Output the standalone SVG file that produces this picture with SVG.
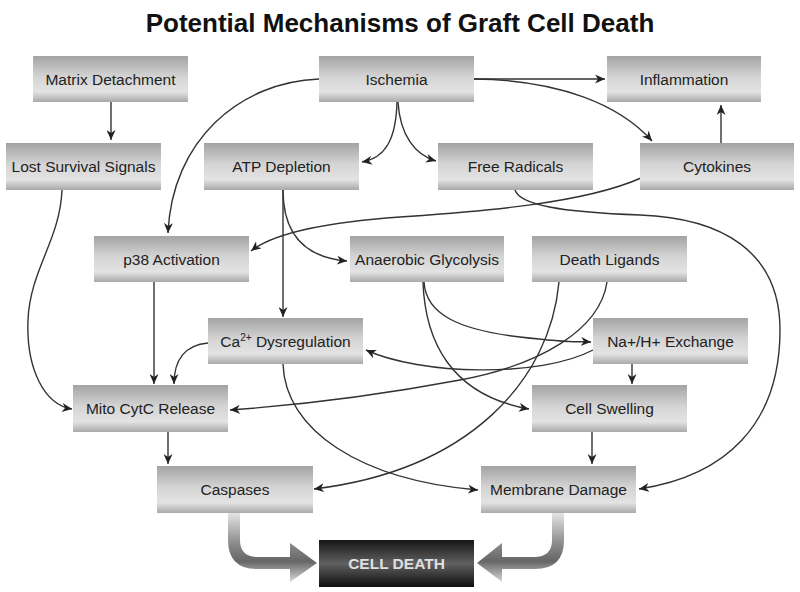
<svg xmlns="http://www.w3.org/2000/svg" width="800" height="592" viewBox="0 0 800 592">
<style>
.box{fill:url(#boxg);}
.lbl{font-family:"Liberation Sans",Arial,sans-serif;font-size:15.5px;fill:#222;text-anchor:middle;}
.title{font-family:"Liberation Sans",Arial,sans-serif;font-size:26px;font-weight:bold;fill:#111;text-anchor:middle;}
.dead{font-family:"Liberation Sans",Arial,sans-serif;font-size:15.5px;font-weight:bold;fill:#e0e0e0;text-anchor:middle;}
.c{fill:none;stroke:#333;stroke-width:1.4;marker-end:url(#ah);}
.cn{fill:none;stroke:#333;stroke-width:1.4;}
</style>
<defs>
<linearGradient id="boxg" x1="0" y1="0" x2="0" y2="1">
<stop offset="0" stop-color="#a3a3a3"/>
<stop offset="0.45" stop-color="#d4d4d4"/>
<stop offset="0.78" stop-color="#e3e3e3"/>
<stop offset="1" stop-color="#a9a9a9"/>
</linearGradient>
<linearGradient id="deadg" x1="0" y1="0" x2="0" y2="1">
<stop offset="0" stop-color="#151515"/>
<stop offset="0.5" stop-color="#606060"/>
<stop offset="1" stop-color="#0e0e0e"/>
</linearGradient>
<linearGradient id="bigg" x1="0" y1="0" x2="0" y2="1">
<stop offset="0" stop-color="#e4e4e4"/>
<stop offset="0.45" stop-color="#8a8a8a"/>
<stop offset="0.7" stop-color="#666"/>
<stop offset="1" stop-color="#d8d8d8"/>
</linearGradient>
<marker id="ah" markerUnits="userSpaceOnUse" markerWidth="11" markerHeight="9" refX="10" refY="4.5" orient="auto">
<path d="M0,0 L10,4.5 L0,9 L3,4.5 z" fill="#222"/>
</marker>
</defs>
<rect width="800" height="592" fill="#fff"/>
<text class="title" x="400" y="32">Potential Mechanisms of Graft Cell Death</text>

<g id="connectors">
<path class="c" d="M111,102 L111,140"/>
<path class="c" d="M474,79 L605,79"/>
<path class="c" d="M474,79 C560,80 620,105 652,141"/>
<path class="c" d="M721,143 L721,105"/>
<path class="c" d="M397,102 C396,140 385,158 362,162"/>
<path class="c" d="M398,102 C400,135 415,155 436,161"/>
<path class="c" d="M319,79 C240,82 172,140 168,233"/>
<path class="c" d="M62,190 C60,240 30,270 28,320 C26,370 45,405 72,409"/>
<path class="c" d="M283,190 L283,317"/>
<path class="c" d="M283,190 C283,240 310,258 347,261"/>
<path class="c" d="M641,178 C580,205 470,212 400,217 C330,222 275,232 251,251"/>
<path class="c" d="M515,190 C520,205 560,212 640,215 C720,218 780,250 780,330 C780,425 725,476 639,489"/>
<path class="c" d="M154,282 L154,384"/>
<path class="c" d="M208,343 C185,345 174,360 174,384"/>
<path class="c" d="M593,350 C540,378 420,375 366,350"/>
<path class="c" d="M607,282 C600,330 540,365 460,380 C380,395 300,405 230,410"/>
<path class="c" d="M424,282 C426,315 460,330 520,337 S575,341 591,342"/>
<path class="c" d="M423,282 C425,340 450,395 529,409"/>
<path class="c" d="M559,282 C550,380 470,470 314,489"/>
<path class="c" d="M283,364 C285,430 360,480 478,490"/>
<path class="c" d="M168,432 L168,464"/>
<path class="c" d="M632,364 L632,384"/>
<path class="c" d="M592,432 L592,464"/>
<path d="M228,513 L240,513 L240,540 Q240,557 258,557 L290,557 L290,543 L317,563 L290,582 L290,569 L257,569 Q228,569 228,540 Z" fill="url(#bigg)"/>
<path d="M564,513 L552,513 L552,540 Q552,557 534,557 L502,557 L502,543 L477,563 L502,582 L502,569 L535,569 Q564,569 564,540 Z" fill="url(#bigg)"/>
</g>

<g id="matrix"><rect class="box" x="33" y="56" width="155" height="46"/><text class="lbl" x="110.5" y="84.5">Matrix Detachment</text></g>
<g id="ischemia"><rect class="box" x="319" y="56" width="155" height="46"/><text class="lbl" x="396.5" y="84.5">Ischemia</text></g>
<g id="inflammation"><rect class="box" x="607" y="56" width="154" height="46"/><text class="lbl" x="684" y="84.5">Inflammation</text></g>
<g id="lost"><rect class="box" x="6" y="143" width="155" height="47"/><text class="lbl" x="83.5" y="172">Lost Survival Signals</text></g>
<g id="atp"><rect class="box" x="204" y="143" width="155" height="47"/><text class="lbl" x="281.5" y="172">ATP Depletion</text></g>
<g id="freerad"><rect class="box" x="438" y="143" width="155" height="47"/><text class="lbl" x="515.5" y="172">Free Radicals</text></g>
<g id="cytokines"><rect class="box" x="640" y="143" width="154" height="47"/><text class="lbl" x="717" y="172">Cytokines</text></g>
<g id="p38"><rect class="box" x="94" y="236" width="155" height="46"/><text class="lbl" x="171.5" y="264.5">p38 Activation</text></g>
<g id="anaerobic"><rect class="box" x="350" y="236" width="154" height="46"/><text class="lbl" x="427" y="264.5">Anaerobic Glycolysis</text></g>
<g id="deathlig"><rect class="box" x="532" y="236" width="155" height="46"/><text class="lbl" x="609.5" y="264.5">Death Ligands</text></g>
<g id="ca"><rect class="box" x="208" y="318" width="155" height="46"/><text class="lbl" x="285.5" y="346.5">Ca<tspan font-size="10" dy="-6">2+</tspan><tspan dy="6"> Dysregulation</tspan></text></g>
<g id="nah"><rect class="box" x="593" y="318" width="155" height="46"/><text class="lbl" x="670.5" y="346.5">Na+/H+ Exchange</text></g>
<g id="mito"><rect class="box" x="73" y="385" width="155" height="47"/><text class="lbl" x="150.5" y="414">Mito CytC Release</text></g>
<g id="swelling"><rect class="box" x="532" y="385" width="155" height="47"/><text class="lbl" x="609.5" y="414">Cell Swelling</text></g>
<g id="caspases"><rect class="box" x="157" y="466" width="156" height="47"/><text class="lbl" x="235" y="495">Caspases</text></g>
<g id="membrane"><rect class="box" x="481" y="466" width="155" height="47"/><text class="lbl" x="558.5" y="495">Membrane Damage</text></g>
<g id="celldeath"><rect x="319" y="540" width="155" height="47" fill="url(#deadg)"/><text class="dead" x="396.5" y="569">CELL DEATH</text></g>
</svg>
